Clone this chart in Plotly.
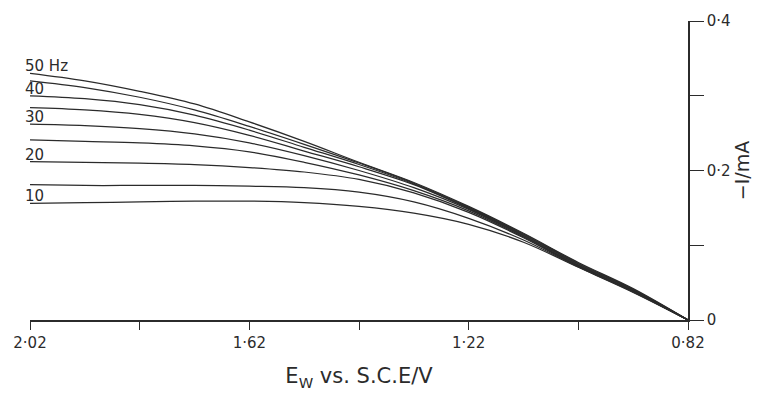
import plotly.graph_objects as go

# Electrode potential E_W vs. S.C.E / V (x axis runs from 2.02 down to 0.82)
potential = [2.02, 1.92, 1.82, 1.72, 1.62, 1.52, 1.42, 1.32, 1.22, 1.12, 1.02, 0.92, 0.82]

# -I / mA for each frequency
i_50hz = [0.330, 0.320, 0.306, 0.289, 0.265, 0.239, 0.211, 0.184, 0.152, 0.116, 0.077, 0.042, 0.0]
i_45hz = [0.320, 0.311, 0.298, 0.281, 0.259, 0.235, 0.210, 0.183, 0.151, 0.115, 0.076, 0.041, 0.0]
i_40hz = [0.300, 0.296, 0.288, 0.274, 0.254, 0.231, 0.208, 0.182, 0.150, 0.114, 0.075, 0.0405, 0.0]
i_35hz = [0.284, 0.281, 0.275, 0.264, 0.247, 0.226, 0.205, 0.181, 0.149, 0.113, 0.074, 0.040, 0.0]
i_30hz = [0.262, 0.260, 0.256, 0.249, 0.237, 0.220, 0.200, 0.177, 0.148, 0.112, 0.073, 0.039, 0.0]
i_25hz = [0.241, 0.239, 0.237, 0.233, 0.225, 0.211, 0.194, 0.173, 0.146, 0.111, 0.072, 0.0385, 0.0]
i_20hz = [0.212, 0.211, 0.210, 0.208, 0.204, 0.198, 0.188, 0.170, 0.144, 0.110, 0.0715, 0.038, 0.0]
i_15hz = [0.181, 0.180, 0.180, 0.180, 0.179, 0.177, 0.171, 0.158, 0.136, 0.107, 0.071, 0.0375, 0.0]
i_10hz = [0.156, 0.157, 0.158, 0.159, 0.159, 0.157, 0.152, 0.143, 0.128, 0.104, 0.0705, 0.037, 0.0]

series = [i_50hz, i_45hz, i_40hz, i_35hz, i_30hz, i_25hz, i_20hz, i_15hz, i_10hz]
series_names = ["50 Hz", "45 Hz", "40 Hz", "35 Hz", "30 Hz", "25 Hz", "20 Hz", "15 Hz", "10 Hz"]
curve_labels = {"50 Hz": "50 Hz", "40 Hz": "40", "30 Hz": "30", "20 Hz": "20", "10 Hz": "10"}

x_tickvals = [2.02, 1.62, 1.22, 0.82]
x_ticktext = ["2·02", "1·62", "1·22", "0·82"]
x_minorvals = [1.82, 1.42, 1.02]
y_tickvals = [0, 0.2, 0.4]
y_ticktext = ["0", "0·2", "0·4"]
y_minorvals = [0.1, 0.3]

x_title = "E<sub>W</sub> vs. S.C.E/V"
y_title = "−I/mA"

ink = "#2b2b2b"
font_family = "DejaVu Sans"

fig = go.Figure()
for name, vals in zip(series_names, series):
    fig.add_trace(go.Scatter(
        x=potential, y=vals, mode="lines", name=name,
        line=dict(color=ink, width=1.25, shape="spline", smoothing=1.0),
        showlegend=False, hoverinfo="skip",
    ))

annotations = []
for name, vals in zip(series_names, series):
    if name in curve_labels:
        annotations.append(dict(
            x=potential[0], y=vals[0], xref="x", yref="y",
            text=curve_labels[name], showarrow=False,
            xanchor="left", yanchor="bottom", xshift=-7, yshift=-4,
            font=dict(family=font_family, size=15, color=ink),
        ))

fig.update_layout(
    width=762, height=408,
    margin=dict(l=30, r=73, t=16, b=88),
    paper_bgcolor="white", plot_bgcolor="white",
    annotations=annotations,
    xaxis=dict(
        range=[2.02, 0.82], showgrid=False, zeroline=False,
        showline=True, linecolor=ink, linewidth=1.5,
        ticks="outside", ticklen=8, tickwidth=1.3, tickcolor=ink,
        tickmode="array", tickvals=x_tickvals, ticktext=x_ticktext,
        tickfont=dict(family=font_family, size=15, color=ink),
        minor=dict(tickmode="array", tickvals=x_minorvals, ticks="outside",
                   ticklen=8, tickwidth=1.3, tickcolor=ink, showgrid=False),
        title=dict(text=x_title, standoff=18,
                   font=dict(family=font_family, size=21, color=ink)),
    ),
    yaxis=dict(
        range=[0, 0.4], side="right", showgrid=False, zeroline=False,
        showline=True, linecolor=ink, linewidth=1.5,
        ticks="outside", ticklen=14, tickwidth=1.3, tickcolor=ink,
        tickmode="array", tickvals=y_tickvals, ticktext=y_ticktext,
        tickfont=dict(family=font_family, size=15, color=ink),
        minor=dict(tickmode="array", tickvals=y_minorvals, ticks="outside",
                   ticklen=14, tickwidth=1.3, tickcolor=ink, showgrid=False),
        title=dict(text=y_title, standoff=6,
                   font=dict(family=font_family, size=19, color=ink)),
    ),
)

fig.write_html("out.html")
